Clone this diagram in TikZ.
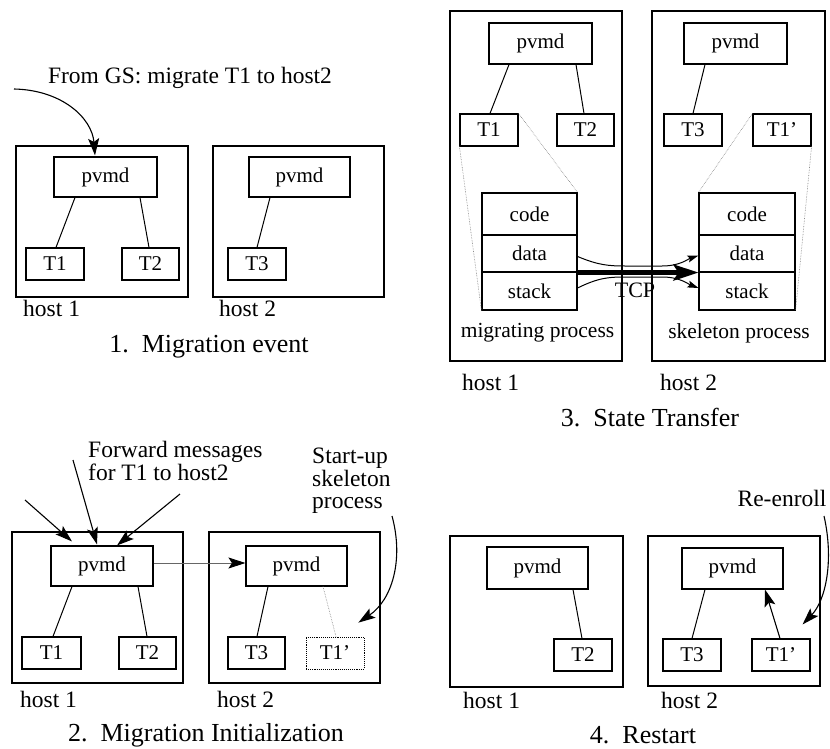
\documentclass[tikz,border=0pt]{standalone}
\usepackage{fontspec}
\setmainfont{Liberation Serif}
\usetikzlibrary{arrows.meta,calc}

\tikzset{
  box/.style={draw, line width=1.1pt, inner sep=0pt, font=\fontsize{21}{25}\selectfont},
  host/.style={draw, line width=1.1pt, inner sep=0pt},
  lbl/.style={inner sep=0pt, font=\fontsize{23.5}{23.5}\selectfont},
  ttl/.style={inner sep=0pt, font=\fontsize{26}{26}\selectfont},
  link/.style={line width=1pt},
  guide/.style={line width=0.6pt, gray, densely dotted},
  arr/.style={line width=1.1pt, -{Stealth[length=17pt,width=11pt,inset=3.5pt]}},
  small arr/.style={line width=1pt, -{Stealth[length=11pt,width=7pt,inset=2pt]}},
}

\begin{document}
\begin{tikzpicture}[x=1pt,y=-1pt]
\useasboundingbox (0,0) rectangle (830,749);

% ---------- 1. Migration event ----------
\node[host, minimum width=172, minimum height=151] (h1a) at (102,221.5) {};
\node[box, minimum width=103, minimum height=40] (p1a) at (105.5,177) {pvmd};
\node[box, minimum width=58, minimum height=32] (t1a) at (55,264) {T1};
\node[box, minimum width=57, minimum height=32] (t2a) at (150.5,264) {T2};
\node[host, minimum width=171, minimum height=151] (h2a) at (298.5,221.5) {};
\node[box, minimum width=101, minimum height=40] (p2a) at (299.5,177) {pvmd};
\node[box, minimum width=58, minimum height=32] (t3a) at (257,264) {T3};
\draw[link] ($(p1a.south)+(-30.5,0)$) -- ($(t1a.north)+(1,0)$);
\draw[link] ($(p1a.south)+(34.5,0)$) -- ($(t2a.north)+(-1.5,0)$);
\draw[link] ($(p2a.south)+(-29.5,0)$) -- (t3a.north);
\node[lbl, anchor=west] (hl1a) at (23,308) {host 1};
\node[lbl, anchor=west] (hl2a) at (219,308) {host 2};
\node[ttl] (ta) at (209,347) {1.\ \ Migration event};
\node[lbl] (gs) at (190,78) {From GS: migrate T1 to host2};
\coordinate (gsin) at (14,89);
\draw[arr] (gsin) .. controls (62,90) and (92,118) .. ($(p1a.north)+(-10.5,-1)$);

% ---------- 3. State Transfer ----------
\node[host, minimum width=172, minimum height=350] (h1c) at (536,186) {};
\node[box, minimum width=103, minimum height=41] (p1c) at (540.5,43.5) {pvmd};
\node[box, minimum width=58, minimum height=32] (t1c) at (489,130) {T1};
\node[box, minimum width=57, minimum height=32] (t2c) at (585.5,130) {T2};
\draw[link] ($(p1c.south)+(-31.5,0)$) -- ($(t1c.north)+(1,0)$);
\draw[link] ($(p1c.south)+(35.5,0)$) -- ($(t2c.north)+(-1.5,0)$);
\node[box, minimum width=95, minimum height=42] (code1) at (529.5,214) {code};
\node[box, minimum width=95, minimum height=37] (data1) at (529.5,253.5) {data};
\node[box, minimum width=95, minimum height=38] (stack1) at (529.5,291) {stack};
\draw[guide] (t1c.south west) -- (stack1.south west);
\draw[guide] (t1c.north east) -- (code1.north east);
\node[lbl, font=\fontsize{21.5}{21.5}\selectfont] (mp) at (537.5,333) {migrating process};

\node[host, minimum width=173, minimum height=350] (h2c) at (738.5,186) {};
\node[box, minimum width=103, minimum height=41] (p2c) at (735.5,43.5) {pvmd};
\node[box, minimum width=58, minimum height=32] (t3c) at (693,130) {T3};
\node[box, minimum width=58, minimum height=32] (t1pc) at (782,130) {T1'};
\draw[link] ($(p2c.south)+(-30.5,0)$) -- (t3c.north);
\node[box, minimum width=96, minimum height=42] (code2) at (747,214) {code};
\node[box, minimum width=96, minimum height=37] (data2) at (747,253.5) {data};
\node[box, minimum width=96, minimum height=38] (stack2) at (747,291) {stack};
\draw[guide] (t1pc.north west) -- (code2.north west);
\draw[guide] (t1pc.south east) -- (stack2.south east);
\node[lbl, font=\fontsize{21.5}{21.5}\selectfont] (sp) at (739,333) {skeleton process};

% transfer over TCP
\draw[line width=4.5pt, -{Stealth[length=25pt,width=16pt,inset=5pt]}]
  (data1.south east) -- (data2.south west);
\draw[small arr] ($(data1.east)+(0,3)$) .. controls (598,265) and (608,266) .. (625,266)
  -- (662,266) .. controls (680,266) and (688,259) .. ($(data2.west)+(0,2)$);
\draw[small arr] ($(stack1.east)+(0,-3)$) .. controls (598,278) and (608,277) .. (625,277)
  -- (662,277) .. controls (680,277) and (688,284) .. ($(stack2.west)+(0,-3)$);
\node[lbl, font=\fontsize{22}{22}\selectfont] (tcp) at (635,290) {TCP};

\node[lbl, anchor=west] (hl1c) at (462,382) {host 1};
\node[lbl, anchor=west] (hl2c) at (660,382) {host 2};
\node[ttl] (tc) at (650,418) {3.\ \ State Transfer};

% ---------- 2. Migration Initialization ----------
\node[host, minimum width=171, minimum height=151] (h1b) at (97.5,607.5) {};
\node[box, minimum width=102, minimum height=40] (p1b) at (102,566) {pvmd};
\node[box, minimum width=59, minimum height=32] (t1b) at (51.5,653) {T1};
\node[box, minimum width=57, minimum height=32] (t2b) at (147.5,653) {T2};
\draw[link] ($(p1b.south)+(-30,0)$) -- ($(t1b.north)+(1.5,0)$);
\draw[link] ($(p1b.south)+(36,0)$) -- ($(t2b.north)+(-0.5,0)$);
\node[host, minimum width=171, minimum height=151] (h2b) at (294.5,607.5) {};
\node[box, minimum width=101, minimum height=40] (p2b) at (296.5,566) {pvmd};
\node[box, minimum width=57, minimum height=32] (t3b) at (256.5,653) {T3};
\node[box, densely dotted, line width=0.8pt, minimum width=58, minimum height=32] (t1pb) at (335,653) {T1'};
\draw[link] ($(p2b.south)+(-28.5,0)$) -- ($(t3b.north)+(0.5,0)$);
\draw[guide] ($(p2b.south)+(26.5,0)$) -- ($(t1pb.north)+(1,0)$);
\draw[line width=0.8pt, black!60, -{Stealth[length=17pt,width=11pt,inset=3.5pt,black]}]
  ($(p1b.east)+(0,-3)$) -- ($(p2b.west)+(0,-3)$);

\coordinate (in1) at (25,500);
\coordinate (in2) at (73,460);
\coordinate (in3) at (180,494);
\draw[arr] (in1) -- ($(p1b.north)+(-30,-4)$);
\draw[arr] (in2) -- ($(p1b.north)+(-5,-1)$);
\draw[arr] (in3) -- ($(p1b.north)+(15,0)$);
\node[lbl, anchor=north west, align=left, font=\fontsize{23.5}{23}\selectfont] (fw) at (88,441)
  {Forward messages\\for T1 to host2};
\node[lbl, anchor=north west, align=left, font=\fontsize{23.5}{22.5}\selectfont] (su) at (312,448)
  {Start-up\\skeleton\\process};
\coordinate (sustart) at (392,516);
\draw[arr] (sustart) .. controls (404,560) and (392,600) .. ($(t1pb.north east)+(-6,-14)$);

\node[lbl, anchor=west] (hl1b) at (20,699) {host 1};
\node[lbl, anchor=west] (hl2b) at (217,699) {host 2};
\node[ttl] (tb) at (206,735) {2.\ \ Migration Initialization};

% ---------- 4. Restart ----------
\node[host, minimum width=173, minimum height=151] (h1d) at (536.5,611.5) {};
\node[box, minimum width=101, minimum height=42] (p1d) at (537.5,568) {pvmd};
\node[box, minimum width=58, minimum height=32] (t2d) at (583,655) {T2};
\draw[link] ($(p1d.south)+(35.5,0)$) -- ($(t2d.north)+(-1,0)$);
\node[host, minimum width=172, minimum height=150] (h2d) at (734,611) {};
\node[box, minimum width=101, minimum height=41] (p2d) at (732.5,568.5) {pvmd};
\node[box, minimum width=58, minimum height=32] (t3d) at (692,655) {T3};
\node[box, minimum width=58, minimum height=32] (t1pd) at (781,655) {T1'};
\draw[link] ($(p2d.south)+(-27.5,0)$) -- (t3d.north);
\draw[arr] ($(t1pd.north)+(-1,0)$) -- ($(p2d.south)+(32.5,0)$);
\node[lbl] (re) at (782,498) {Re-enroll};
\coordinate (restart) at (824,516);
\draw[arr] (restart) .. controls (834,560) and (826,600) .. ($(t1pd.north east)+(-8,-14)$);

\node[lbl, anchor=west] (hl1d) at (463,700) {host 1};
\node[lbl, anchor=west] (hl2d) at (661,700) {host 2};
\node[ttl] (td) at (643,735) {4.\ \ Restart};
\end{tikzpicture}
\end{document}
